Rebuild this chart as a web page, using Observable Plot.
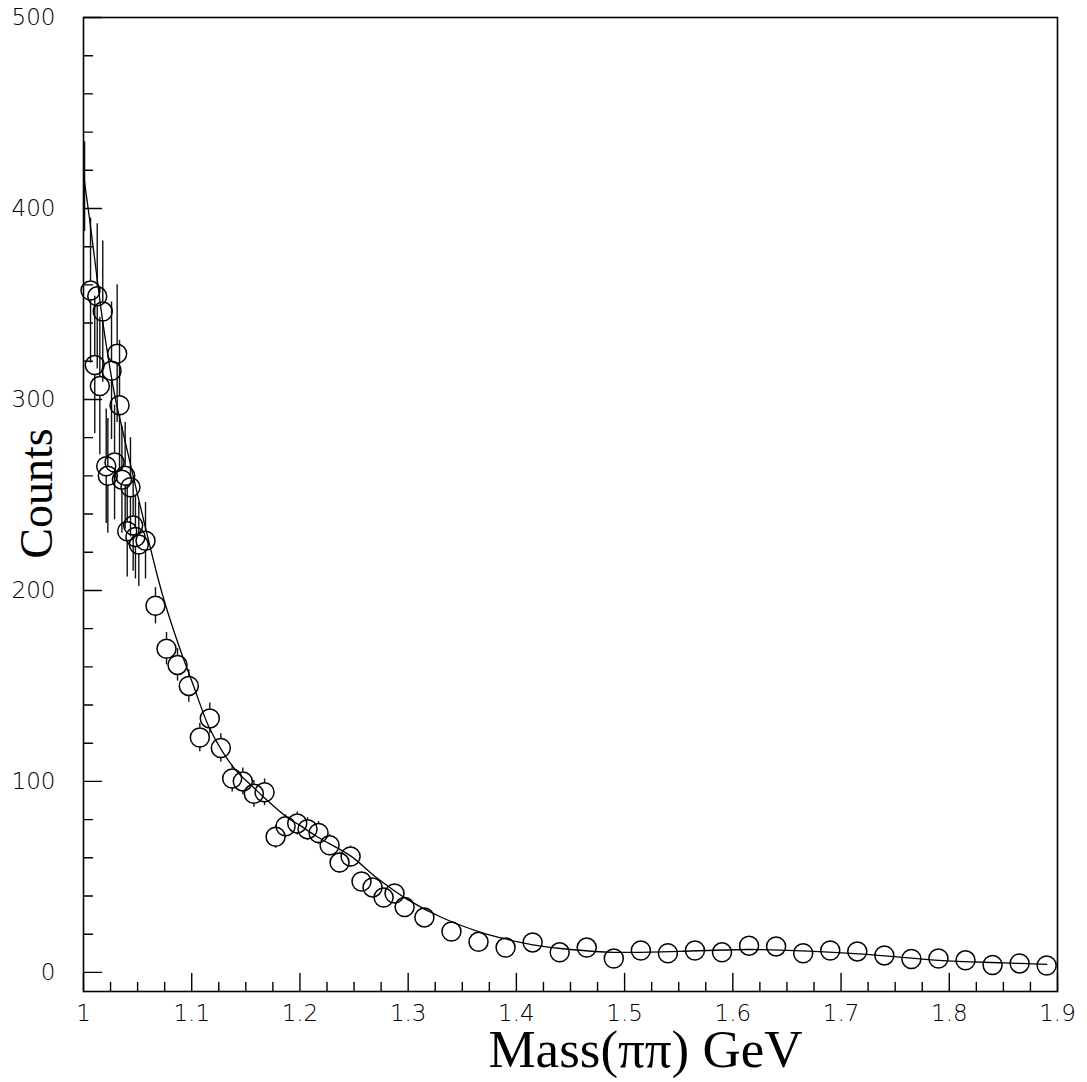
<!DOCTYPE html>
<html><head><meta charset="utf-8">
<script src="https://cdn.jsdelivr.net/npm/d3@7"></script>
<script src="https://cdn.jsdelivr.net/npm/@observablehq/plot@0.6"></script>
<style>body{margin:0;background:#fff;}</style>
</head><body><div id="chart"></div>
<script>
// ---- data ----
const denseX = [1.0065, 1.0104, 1.0127, 1.0151, 1.0178, 1.0210, 1.0225, 1.0259, 1.0287, 1.0311, 1.0333, 1.0355, 1.0385, 1.0404, 1.0434, 1.0459, 1.0480, 1.0511, 1.0573];
const denseY = [357, 318, 354, 307, 346, 265, 260, 315, 267, 324, 297, 258, 260, 231, 254, 234, 228, 224, 226];
const denseErr = [38, 36, 38, 36, 37, 30, 30, 36, 30, 36, 34, 28, 28, 24, 26, 24, 22, 22, 20];

const midX = [1.0665, 1.0767, 1.0869, 1.0973, 1.1075, 1.1167, 1.1269, 1.1374, 1.1472, 1.1574, 1.1673, 1.1775, 1.1867, 1.1975, 1.2070, 1.2172, 1.2274, 1.2366, 1.2468, 1.2569, 1.2671, 1.2773, 1.2874, 1.2967];
const midY = [192, 169.5, 161, 150, 123, 133, 117.5, 101.5, 100, 93.5, 94.3, 71, 76.5, 78, 75, 73, 66.6, 57.5, 60.7, 47.6, 44.5, 39.2, 41.3, 34.2];
const midErr = [9.5, 8.5, 8.5, 8.5, 7.5, 8, 7.5, 7, 7, 7, 7, 6, 6, 6, 6, 6, 5.5, 5.5, 5.5, 4.5, 4.5, 4, 4, 4];

const wideX = [1.315, 1.34, 1.365, 1.39, 1.415, 1.44, 1.465, 1.49, 1.515, 1.54, 1.565, 1.59, 1.615, 1.64, 1.665, 1.69, 1.715, 1.74, 1.765, 1.79, 1.815, 1.84, 1.865, 1.89];
const wideY = [28.8, 21.4, 16, 13, 15.7, 10.5, 13, 7.3, 11.5, 10, 11.5, 10.5, 14, 13.6, 10, 11.5, 11, 8.9, 7, 7.3, 6.3, 3.9, 4.7, 3.6];
const wideErr = [3.5, 3, 2.6, 2.4, 2.6, 2.2, 2.4, 1.8, 2.2, 2, 2.2, 2, 2.4, 2.4, 2, 2.2, 2.2, 2, 1.8, 1.8, 1.6, 1.3, 1.4, 1.2];

// error bar at the very left edge (marker not visible)
const edgeBarX = [1.001];
const edgeBarLo = [388];
const edgeBarHi = [435];

// fitted curve
const fitX = [1.000, 1.005, 1.010, 1.0185, 1.0296, 1.034, 1.050, 1.069, 1.076, 1.090, 1.1017, 1.1155, 1.128, 1.142, 1.155, 1.166, 1.1885, 1.200, 1.216, 1.2468, 1.270, 1.300, 1.330, 1.367, 1.390, 1.420, 1.450, 1.490, 1.550, 1.614, 1.650, 1.720, 1.790, 1.850, 1.890];
const fitY = [418, 397, 375, 338, 300, 289, 250, 206, 192, 168, 150, 129, 116, 105, 98, 92, 81, 77, 71, 61, 50, 38, 29, 21, 17.5, 14, 12, 10.5, 11, 12, 11.5, 9.6, 6.3, 5, 4.2];

const xMajor = [1, 1.1, 1.2, 1.3, 1.4, 1.5, 1.6, 1.7, 1.8, 1.9];
const xLabels = ["1", "1.1", "1.2", "1.3", "1.4", "1.5", "1.6", "1.7", "1.8", "1.9"];
const yMajor = [0, 100, 200, 300, 400, 500];
const yLabels = ["0", "100", "200", "300", "400", "500"];

// ---- build ----
const W = 1087, H = 1082, mL = 83, mR = 30, mT = 17, mB = 91;
const xDom = [1, 1.9], yDom = [-10, 500];
const pxPerUnit = (H - mT - mB) / (yDom[1] - yDom[0]);
const R = 9.5;
const rU = R / pxPerUnit;

const pts = [];
denseX.forEach((x, i) => pts.push({x, y: denseY[i], err: denseErr[i]}));
midX.forEach((x, i) => pts.push({x, y: midY[i], err: midErr[i]}));
wideX.forEach((x, i) => pts.push({x, y: wideY[i], err: wideErr[i]}));

const bars = [];
pts.forEach(d => {
  if (d.err > rU) {
    bars.push({x: d.x, a: d.y + rU, b: d.y + d.err});
    bars.push({x: d.x, a: d.y - d.err, b: d.y - rU});
  }
});
edgeBarX.forEach((x, i) => bars.push({x, a: edgeBarLo[i], b: edgeBarHi[i]}));

const fit = fitX.map((x, i) => ({x, y: fitY[i]}));

const xMinor = [], yMinor = [];
for (let k = 0; k <= 36; k++) { if (k % 4) xMinor.push(1 + k * 0.025); }
for (let v = 0; v <= 500; v += 20) { if (v % 100) yMinor.push(v); }

const tickShape = {draw(ctx, l) { ctx.moveTo(0, 0); ctx.lineTo(0, -l); }};

const chart = Plot.plot({
  width: W, height: H,
  marginLeft: mL, marginRight: mR, marginTop: mT, marginBottom: mB,
  x: {domain: xDom, label: null},
  y: {domain: yDom, label: null},
  style: {fontFamily: "DejaVu Sans", background: "#fff", color: "#000"},
  marks: [
    Plot.ruleX(bars, {x: "x", y1: "a", y2: "b", stroke: "#111", strokeWidth: 1.4}),
    Plot.dot(pts, {x: "x", y: "y", r: R, stroke: "#000", strokeWidth: 1.5, fill: "none"}),
    Plot.line(fit, {x: "x", y: "y", curve: "catmull-rom", stroke: "#000", strokeWidth: 1.3}),
    Plot.frame({stroke: "#000", strokeWidth: 1.6}),
    // inward ticks
    Plot.vector(xMajor, {x: d => d, y: yDom[0], length: 18, anchor: "start", shape: tickShape, stroke: "#000", strokeWidth: 1.4}),
    Plot.vector(xMinor, {x: d => d, y: yDom[0], length: 9, anchor: "start", shape: tickShape, stroke: "#000", strokeWidth: 1.4}),
    Plot.vector(yMajor, {x: xDom[0], y: d => d, length: 18, rotate: 90, anchor: "start", shape: tickShape, stroke: "#000", strokeWidth: 1.4}),
    Plot.vector(yMinor, {x: xDom[0], y: d => d, length: 9, rotate: 90, anchor: "start", shape: tickShape, stroke: "#000", strokeWidth: 1.4}),
    Plot.axisX(xMajor, {tickSize: 0, tickPadding: 13, tickFormat: (d, i) => xLabels[i], fontSize: 23, fontWeight: 200, fill: "#000"}),
    Plot.axisY(yMajor, {tickSize: 0, tickPadding: 28, tickFormat: (d, i) => yLabels[i], fontSize: 23, fontWeight: 200, fill: "#000"}),
    Plot.text(["Counts"], {frameAnchor: "left", textAnchor: "middle", lineAnchor: "middle", dx: -46, dy: -11, rotate: -90, fontSize: 46, fontFamily: "Liberation Serif", fill: "#000"}),
    Plot.text(["Mass(\u03c0\u03c0) GeV"], {frameAnchor: "bottom", textAnchor: "middle", lineAnchor: "middle", dx: 75, dy: 59, fontSize: 53, fontFamily: "Liberation Serif", fill: "#000"})
  ]
});
document.getElementById("chart").appendChild(chart);
</script>
</body></html>
